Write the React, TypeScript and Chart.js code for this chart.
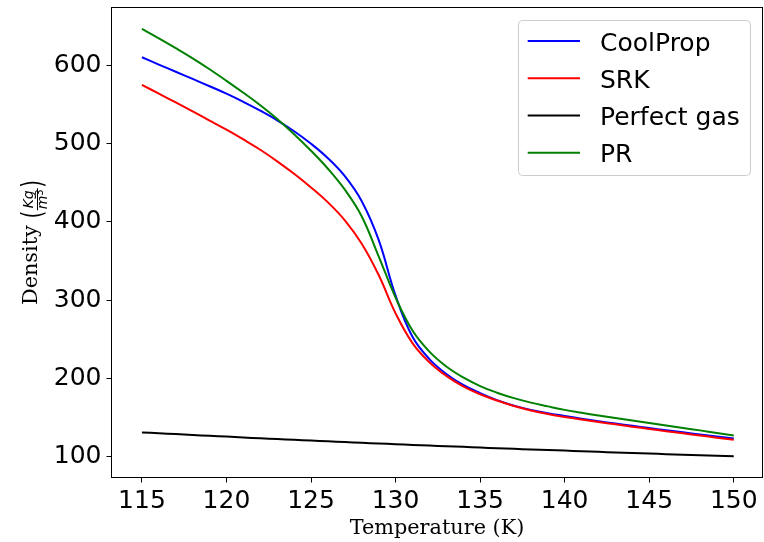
import { useEffect, useRef } from "react";
import { Chart, registerables } from "chart.js";

Chart.register(...registerables);

// Temperature grid (K) and densities (kg/m³) for each equation of state
const temperatures = [
  115, 116, 117, 118, 119, 120, 121, 122, 123, 124, 125, 126, 127, 128, 129, 130, 131, 132,
  133, 134, 135, 136, 137, 138, 139, 140, 141, 142, 143, 144, 145, 146, 147, 148, 149, 150,
];
const coolPropDensity = [
  610.7, 601.3, 592.1, 582.9, 573.6, 564.0, 553.5, 542.3, 530.0, 516.0, 500.0, 481.5, 458.5, 426.5, 377.0, 305.7, 253.0, 224.5,
  205.5, 191.5, 181.0, 172.0, 165.0, 159.5, 155.2, 151.7, 148.3, 145.1, 142.0, 139.1, 136.3, 133.5, 130.8, 128.1, 125.5, 123.0,
];
const srkDensity = [
  575.3, 564.1, 552.8, 541.3, 529.7, 518.0, 505.5, 492.3, 477.5, 461.5, 444.0, 425.0, 402.0, 372.0, 332.0, 283.0, 245.0, 220.5,
  203.0, 189.5, 179.5, 171.5, 164.5, 158.8, 154.2, 150.5, 147.2, 144.0, 141.0, 138.0, 135.1, 132.3, 129.5, 126.8, 124.0, 121.3,
];
const perfectGasDensity = [
  130.7, 129.6, 128.5, 127.4, 126.3, 125.3, 124.2, 123.2, 122.2, 121.2, 120.2, 119.3, 118.3, 117.4, 116.5, 115.6, 114.7, 113.9,
  113.0, 112.2, 111.3, 110.5, 109.7, 108.9, 108.1, 107.4, 106.6, 105.8, 105.1, 104.4, 103.7, 102.9, 102.2, 101.6, 100.9, 100.2,
];
const prDensity = [
  646.9, 634.8, 622.3, 609.3, 595.3, 580.5, 565.2, 549.2, 531.7, 512.2, 491.0, 468.0, 441.2, 407.0, 356.0, 303.2, 261.0, 234.0,
  215.0, 201.0, 190.0, 181.5, 174.5, 168.8, 164.0, 159.5, 155.8, 152.3, 149.0, 145.8, 142.6, 139.5, 136.4, 133.3, 130.0, 126.8,
];

const seriesLabels = ["CoolProp", "SRK", "Perfect gas", "PR"];
const seriesColors = ["#0000ff", "#ff0000", "#000000", "#008000"];

const xTicks = [115, 120, 125, 130, 135, 140, 145, 150];
const yTicks = [100, 200, 300, 400, 500, 600];

const xTitle = "Temperature (K)";
const yTitle = "Density";

const SANS = "'DejaVu Sans'";
const SERIF = "'DejaVu Serif'";

const toPoints = (values: number[]) => temperatures.map((t, i) => ({ x: t, y: values[i] }));

const decorations = {
  id: "decorations",
  afterDatasetsDraw(chart: any) {
    const { ctx, chartArea: a } = chart;
    ctx.save();

    // Axes frame on all four sides
    ctx.strokeStyle = "#000";
    ctx.lineWidth = 1;
    ctx.strokeRect(a.left, a.top, a.right - a.left, a.bottom - a.top);

    // X-axis title
    ctx.fillStyle = "#000";
    ctx.font = `20.8px ${SERIF}`;
    ctx.textAlign = "center";
    ctx.textBaseline = "alphabetic";
    ctx.fillText(xTitle, (a.left + a.right) / 2, 534);

    // Y-axis title: Density (Kg / m^3) with a stacked fraction
    const cy = (a.top + a.bottom) / 2;
    ctx.translate(36.5, cy);
    ctx.rotate(-Math.PI / 2);
    ctx.textAlign = "left";
    const titleFont = `20.8px ${SERIF}`;
    const parenFont = `20px ${SANS}`;
    const parenScale = 1.42;
    const fracFont = `italic 14px ${SANS}`;
    const supFont = `10px ${SANS}`;
    ctx.font = titleFont;
    const wDen = ctx.measureText(yTitle + " ").width;
    ctx.font = parenFont;
    const wOpen = ctx.measureText("(").width;
    const wClose = ctx.measureText(")").width;
    ctx.font = fracFont;
    const wNum = ctx.measureText("Kg").width;
    const wM = ctx.measureText("m").width;
    ctx.font = supFont;
    const wSup = ctx.measureText("3").width;
    const wDenom = wM + wSup;
    const wFrac = Math.max(wNum, wDenom) + 3;
    const total = wDen + wOpen + wFrac + wClose;
    let x = -total / 2;
    ctx.font = titleFont;
    ctx.fillText(yTitle, x, 0);
    x += wDen;
    const drawParen = (ch: string, px: number) => {
      ctx.save();
      ctx.font = parenFont;
      ctx.translate(px, 5.5);
      ctx.scale(1, parenScale);
      ctx.fillText(ch, 0, 0);
      ctx.restore();
    };
    drawParen("(", x);
    x += wOpen;
    ctx.font = fracFont;
    ctx.fillText("Kg", x + (wFrac - wNum) / 2, -3.5);
    ctx.fillRect(x + 0.5, 0.5, wFrac - 1, 1);
    const dx = x + (wFrac - wDenom) / 2;
    ctx.fillText("m", dx, 10.5);
    ctx.font = supFont;
    ctx.fillText("3", dx + wM, 6);
    x += wFrac;
    drawParen(")", x);
    ctx.restore();

    // Legend
    ctx.save();
    ctx.beginPath();
    ctx.roundRect(518.5, 20.5, 232, 155, 4);
    ctx.fillStyle = "rgba(255,255,255,0.8)";
    ctx.fill();
    ctx.strokeStyle = "#cccccc";
    ctx.lineWidth = 1;
    ctx.stroke();
    ctx.font = `25px ${SANS}`;
    ctx.textAlign = "left";
    ctx.textBaseline = "alphabetic";
    seriesLabels.forEach((label, i) => {
      const ly = 41 + i * 37.25;
      ctx.strokeStyle = seriesColors[i];
      ctx.lineWidth = 2;
      ctx.beginPath();
      ctx.moveTo(527.7, ly);
      ctx.lineTo(580, ly);
      ctx.stroke();
      ctx.fillStyle = "#000";
      ctx.fillText(label, 600, ly + 9.5);
    });
    ctx.restore();
  },
};

export default function App() {
  const canvasRef = useRef<HTMLCanvasElement | null>(null);

  useEffect(() => {
    const canvas = canvasRef.current;
    if (!canvas) return;
    const series = [coolPropDensity, srkDensity, perfectGasDensity, prDensity];
    const chart = new Chart(canvas, {
      type: "line",
      data: {
        datasets: series.map((values, i) => ({
          label: seriesLabels[i],
          data: toPoints(values),
          borderColor: seriesColors[i],
          backgroundColor: seriesColors[i],
          borderWidth: 2,
          pointRadius: 0,
          tension: 0.4,
          fill: false,
          order: series.length - i,
        })),
      },
      options: {
        responsive: false,
        animation: false,
        devicePixelRatio: 1,
        layout: { padding: { left: 0, top: 7.5, right: 1.5, bottom: 0 } },
        plugins: { legend: { display: false }, tooltip: { enabled: false } },
        scales: {
          x: {
            type: "linear",
            min: 113.2,
            max: 151.7,
            afterBuildTicks: (s: any) => {
              s.ticks = xTicks.map((v) => ({ value: v }));
            },
            afterFit: (s: any) => {
              s.height = 64.5;
              s.paddingLeft = 0;
              s.paddingRight = 0;
            },
            border: { display: false },
            grid: { drawOnChartArea: false, drawTicks: true, tickLength: 5, tickColor: "#000", tickWidth: 1 },
            ticks: {
              autoSkip: false,
              maxRotation: 0,
              padding: 4,
              color: "#000",
              font: { family: SANS, size: 25 },
            },
          },
          y: {
            type: "linear",
            min: 73.0,
            max: 674.3,
            afterBuildTicks: (s: any) => {
              s.ticks = yTicks.map((v) => ({ value: v }));
            },
            afterFit: (s: any) => {
              s.width = 111.5;
              s.paddingTop = 0;
              s.paddingBottom = 0;
            },
            border: { display: false },
            grid: { drawOnChartArea: false, drawTicks: true, tickLength: 5, tickColor: "#000", tickWidth: 1 },
            ticks: {
              autoSkip: false,
              padding: 5,
              color: "#000",
              font: { family: SANS, size: 25 },
            },
          },
        },
      },
      plugins: [decorations],
    });
    return () => chart.destroy();
  }, []);

  return (
    <div style={{ position: "fixed", left: 0, top: 0, width: 764, height: 542, background: "#fff" }}>
      <canvas ref={canvasRef} width={764} height={542} style={{ display: "block" }} />
    </div>
  );
}
